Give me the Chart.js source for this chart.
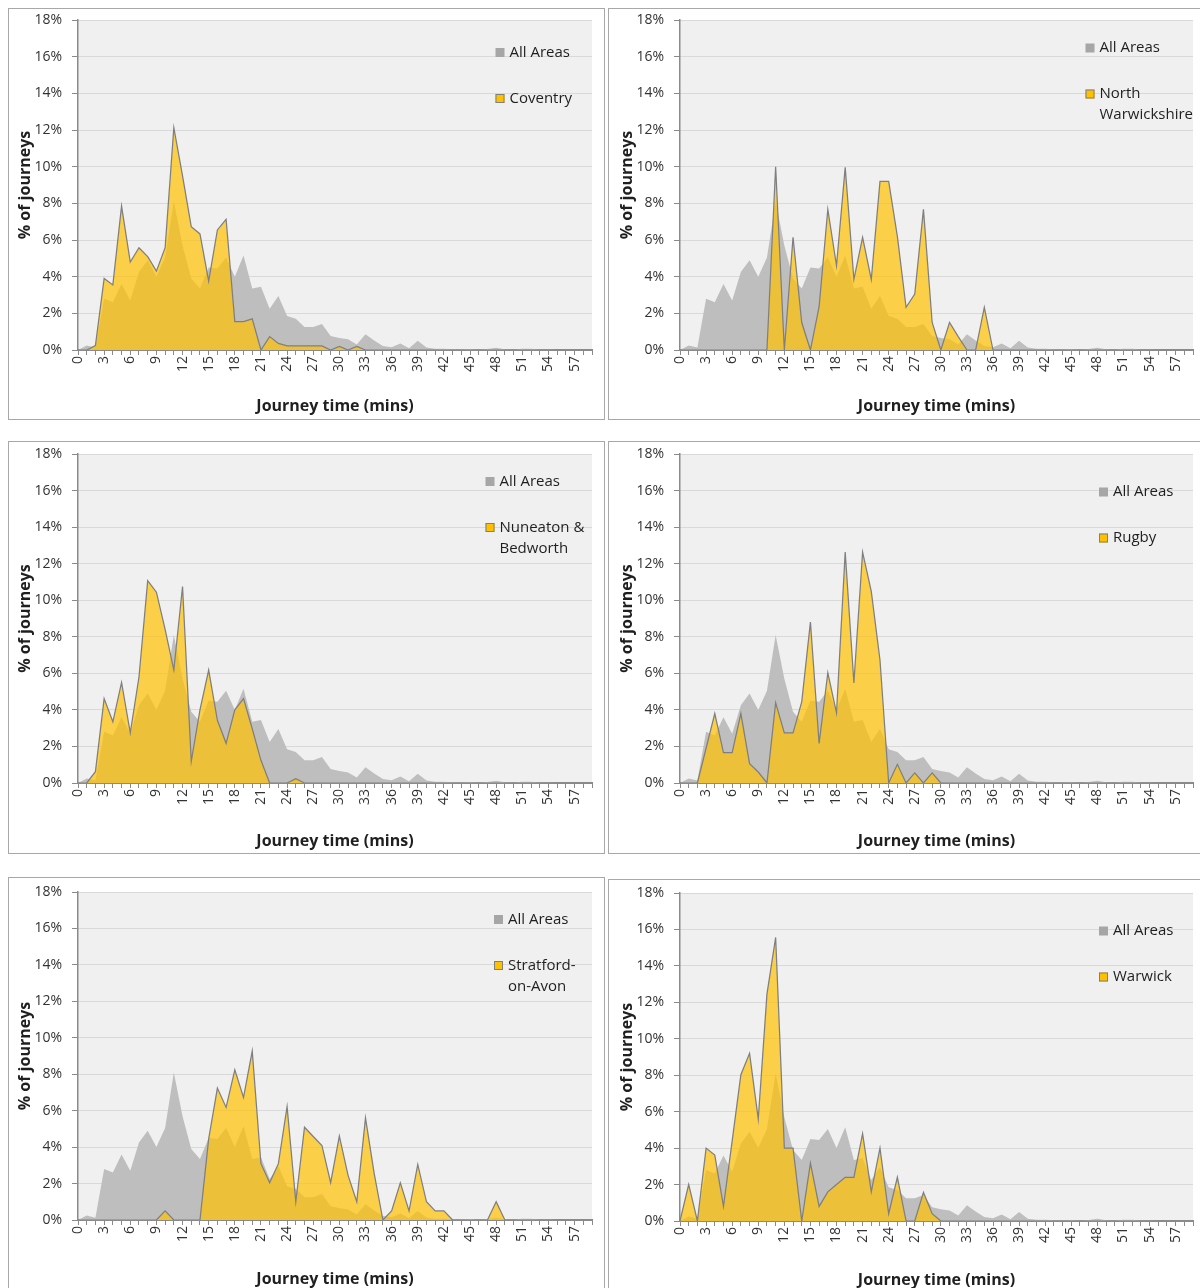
<!DOCTYPE html>
<html>
<head>
<meta charset="utf-8">
<title>Journey time distribution by district</title>
<script src="https://cdn.jsdelivr.net/npm/chart.js@4.4.1/dist/chart.umd.min.js"></script>
<style>
  html, body { margin: 0; padding: 0; background: #ffffff; width: 1200px; height: 1288px; overflow: hidden; }
  .frame { position: absolute; box-sizing: border-box; border: 1px solid #a8a8a8; }
  canvas { position: absolute; }
</style>
</head>
<body>
<script>
// Journey time in minutes (x categories)
const minutes = [0,1,2,3,4,5,6,7,8,9,10,11,12,13,14,15,16,17,18,19,20,21,22,23,24,25,26,27,28,29,
                 30,31,32,33,34,35,36,37,38,39,40,41,42,43,44,45,46,47,48,49,50,51,52,53,54,55,56,57,58,59];

// Share of journeys (%) for every area combined
const allAreas = [0,0.25,0.13,2.8,2.6,3.6,2.7,4.25,4.9,4.0,5.05,8.1,5.7,3.9,3.35,4.5,4.45,5.05,4.0,5.15,
                  3.35,3.45,2.25,2.95,1.85,1.7,1.25,1.25,1.42,0.76,0.65,0.58,0.3,0.86,0.52,0.22,0.15,0.36,0.1,0.5,
                  0.13,0.07,0.07,0.04,0.04,0.05,0.03,0.06,0.12,0.04,0.03,0.07,0.07,0.03,0.03,0.02,0.02,0.02,0.01,0.01];

// Share of journeys (%) per district
const coventry = [0,0,0.24,3.9,3.55,7.85,4.8,5.58,5.09,4.3,5.58,12.13,9.5,6.73,6.33,3.76,6.55,7.13,1.55,1.55,
                  1.7,0,0.73,0.36,0.22,0.22,0.22,0.22,0.22,0,0.2,0,0.2,0,0,0,0,0,0,0,
                  0,0,0,0,0,0,0,0,0,0,0,0,0,0,0,0,0,0,0,0];
const northWarwickshire = [0,0,0,0,0,0,0,0,0,0,0,10.0,0,6.15,1.5,0,2.36,7.67,4.6,9.96,
                  3.85,6.15,3.85,9.2,9.2,6.2,2.33,3.05,7.67,1.5,0,1.5,0.73,0,0,2.33,0,0,0,0,
                  0,0,0,0,0,0,0,0,0,0,0,0,0,0,0,0,0,0,0,0];
const nuneatonBedworth = [0,0,0.62,4.62,3.35,5.5,2.74,5.8,11.07,10.44,8.4,6.18,10.75,1.19,4.0,6.18,3.43,2.17,4.0,4.62,
                  2.97,1.24,0,0,0,0.24,0,0,0,0,0,0,0,0,0,0,0,0,0,0,
                  0,0,0,0,0,0,0,0,0,0,0,0,0,0,0,0,0,0,0,0];
const rugby = [0,0,0,1.9,3.8,1.66,1.66,3.8,1.06,0.6,0,4.39,2.74,2.74,4.44,8.8,2.16,6.03,3.84,12.63,
                  5.48,12.63,10.48,6.73,0,1.02,0,0.55,0,0.55,0,0,0,0,0,0,0,0,0,0,
                  0,0,0,0,0,0,0,0,0,0,0,0,0,0,0,0,0,0,0,0];
const stratford = [0,0,0,0,0,0,0,0,0,0,0.5,0,0,0,0,4.45,7.24,6.18,8.24,6.73,
                  9.27,3.09,2.05,3.09,6.22,1.0,5.09,4.58,4.09,2.05,4.6,2.45,1.0,5.6,2.55,0,0.5,2.04,0.5,3.05,
                  1.0,0.5,0.5,0,0,0,0,0,1.0,0,0,0,0,0,0,0,0,0,0,0];
const warwick = [0,2.0,0,4.0,3.62,0.8,4.4,8.03,9.2,5.6,12.45,15.56,4.0,4.0,0,3.18,0.8,1.6,2.0,2.4,
                  2.4,4.8,1.6,4.0,0.4,2.4,0,0,1.57,0.4,0,0,0,0,0,0,0,0,0,0,
                  0,0,0,0,0,0,0,0,0,0,0,0,0,0,0,0,0,0,0,0];

// Y axis ticks (%)
const yTicks = { min: 0, max: 18, step: 2 };

// District names as they wrap in the legend
const districtNames = [
  ['Coventry'],
  ['North', 'Warwickshire'],
  ['Nuneaton &', 'Bedworth'],
  ['Rugby'],
  ['Stratford-', 'on-Avon'],
  ['Warwick']
];
const districtSeries = [coventry, northWarwickshire, nuneatonBedworth, rugby, stratford, warwick];

// Page layout of the six panels: frame box, plot area, legend anchor, title positions
const PANELS = [
  { box: [8, 8, 597, 412],    plot: [78, 20, 592, 350],    legend: [495.5, 52.5],  yTitleX: 25,  xTitleY: 406 },
  { box: [608, 8, 600, 412],  plot: [680, 20, 1193, 350],  legend: [1085.5, 48],   yTitleX: 627, xTitleY: 406 },
  { box: [8, 441, 597, 413],  plot: [78, 454, 592, 783],   legend: [485.5, 481.5], yTitleX: 25,  xTitleY: 841 },
  { box: [608, 441, 600, 413],plot: [680, 454, 1193, 783], legend: [1099, 492],    yTitleX: 627, xTitleY: 841 },
  { box: [8, 877, 597, 420],  plot: [78, 892, 592, 1220],  legend: [494, 919.5],   yTitleX: 25,  xTitleY: 1279 },
  { box: [608, 879, 600, 420],plot: [680, 893, 1193, 1221],legend: [1099, 931],    yTitleX: 627, xTitleY: 1280 }
];

const FONT = '"Open Sans", "Noto Sans", sans-serif';
Chart.defaults.font.family = FONT;

const GREY = '#bebebe';
const GREY_KEY = '#a6a6a6';
const GOLD = 'rgba(255,192,0,0.7)';
const GOLD_KEY = '#ffc000';
const OUTLINE = '#7f7f7f';

// Light grey plot-area background
const plotBackground = {
  id: 'plotBackground',
  beforeDraw(chart, args, opts) {
    const { ctx, chartArea: a } = chart;
    ctx.save();
    ctx.fillStyle = opts.color;
    ctx.fillRect(a.left, a.top, a.right - a.left, a.bottom - a.top);
    ctx.restore();
  }
};

// Legend drawn inside the plot area, square swatch + wrapped label
const sideLegend = {
  id: 'sideLegend',
  afterDraw(chart, args, opts) {
    const ctx = chart.ctx;
    ctx.save();
    ctx.font = '15px ' + FONT;
    ctx.textBaseline = 'middle';
    ctx.textAlign = 'left';
    opts.items.forEach((it, k) => {
      const y = opts.y + k * opts.gap;
      ctx.fillStyle = it.fill;
      ctx.fillRect(opts.x, y - 4.5, 9, 9);
      if (it.stroke) {
        ctx.strokeStyle = it.stroke;
        ctx.lineWidth = 1;
        ctx.strokeRect(opts.x + 0.5, y - 4, 8, 8);
      }
      ctx.fillStyle = '#1f1f1f';
      it.lines.forEach((ln, j) => ctx.fillText(ln, opts.x + 14, y + j * opts.lineGap));
    });
    ctx.restore();
  }
};

PANELS.forEach((p, k) => {
  const [bx, by, bw, bh] = p.box;
  const frame = document.createElement('div');
  frame.className = 'frame';
  Object.assign(frame.style, { left: bx + 'px', top: by + 'px', width: bw + 'px', height: bh + 'px' });
  document.body.appendChild(frame);

  const cv = document.createElement('canvas');
  cv.width = bw; cv.height = bh;
  Object.assign(cv.style, { left: bx + 'px', top: by + 'px', width: bw + 'px', height: bh + 'px' });
  document.body.appendChild(cv);

  const areaL = p.plot[0] - bx, areaT = p.plot[1] - by;
  const areaR = p.plot[2] - bx, areaB = p.plot[3] - by;
  const titleLH = 16 * 1.2;
  const xTitlePad = Math.max(0, (bh - (p.xTitleY - by)) - titleLH / 2);
  const yTitlePad = Math.max(0, (p.yTitleX - bx) - titleLH / 2);
  const name = districtNames[k];

  new Chart(cv, {
    type: 'line',
    data: {
      labels: minutes,
      datasets: [
        { label: name.join(' '), data: districtSeries[k], fill: 'origin',
          backgroundColor: GOLD, borderColor: OUTLINE, borderWidth: 1.25,
          pointRadius: 0, tension: 0 },
        { label: 'All Areas', data: allAreas, fill: 'origin',
          backgroundColor: GREY, borderColor: 'rgba(0,0,0,0)', borderWidth: 1,
          pointRadius: 0, tension: 0 }
      ]
    },
    options: {
      responsive: false,
      animation: false,
      events: [],
      layout: { padding: { left: 0, top: areaT, right: bw - areaR, bottom: 0 } },
      plugins: {
        legend: { display: false },
        tooltip: { enabled: false },
        plotBackground: { color: '#f0f0f0' },
        sideLegend: {
          x: p.legend[0] - bx, y: p.legend[1] - by, gap: 46, lineGap: 21,
          items: [
            { lines: ['All Areas'], fill: GREY_KEY },
            { lines: name, fill: GOLD_KEY, stroke: OUTLINE }
          ]
        }
      },
      scales: {
        x: {
          type: 'category',
          offset: false,
          grid: { display: true, drawOnChartArea: false, drawTicks: true, tickLength: 5,
                  tickColor: '#8a8a8a', tickWidth: 1, lineWidth: 1 },
          border: { display: true, color: '#8a8a8a', width: 2 },
          ticks: {
            autoSkip: false, minRotation: 90, maxRotation: 90, padding: 1,
            color: '#333333', font: { size: 14 },
            callback: (v, i) => (minutes[i] % 3 === 0 ? String(minutes[i]) : '')
          },
          title: { display: true, text: 'Journey time (mins)', color: '#1f1f1f',
                   font: { size: 16, weight: 'bold' }, padding: { top: 0, bottom: xTitlePad } },
          afterFit: s => { s.height = bh - areaB; s.paddingLeft = 0; s.paddingRight = 0; }
        },
        y: {
          min: yTicks.min, max: yTicks.max,
          grid: { color: '#c2c2c2', lineWidth: 1, drawTicks: true, tickLength: 6,
                  tickColor: '#8a8a8a', tickWidth: 1, tickBorderDash: [] },
          border: { display: true, color: '#8a8a8a', width: 1.5, dash: [1, 1] },
          ticks: { stepSize: yTicks.step, padding: 10, color: '#333333', font: { size: 14 },
                   callback: v => v + '%' },
          title: { display: true, text: '% of journeys', color: '#1f1f1f',
                   font: { size: 16, weight: 'bold' }, padding: { top: yTitlePad, bottom: 0 } },
          afterFit: s => { s.width = areaL; s.paddingTop = 0; s.paddingBottom = 0; }
        }
      }
    },
    plugins: [plotBackground, sideLegend]
  });
});
</script>
</body>
</html>
